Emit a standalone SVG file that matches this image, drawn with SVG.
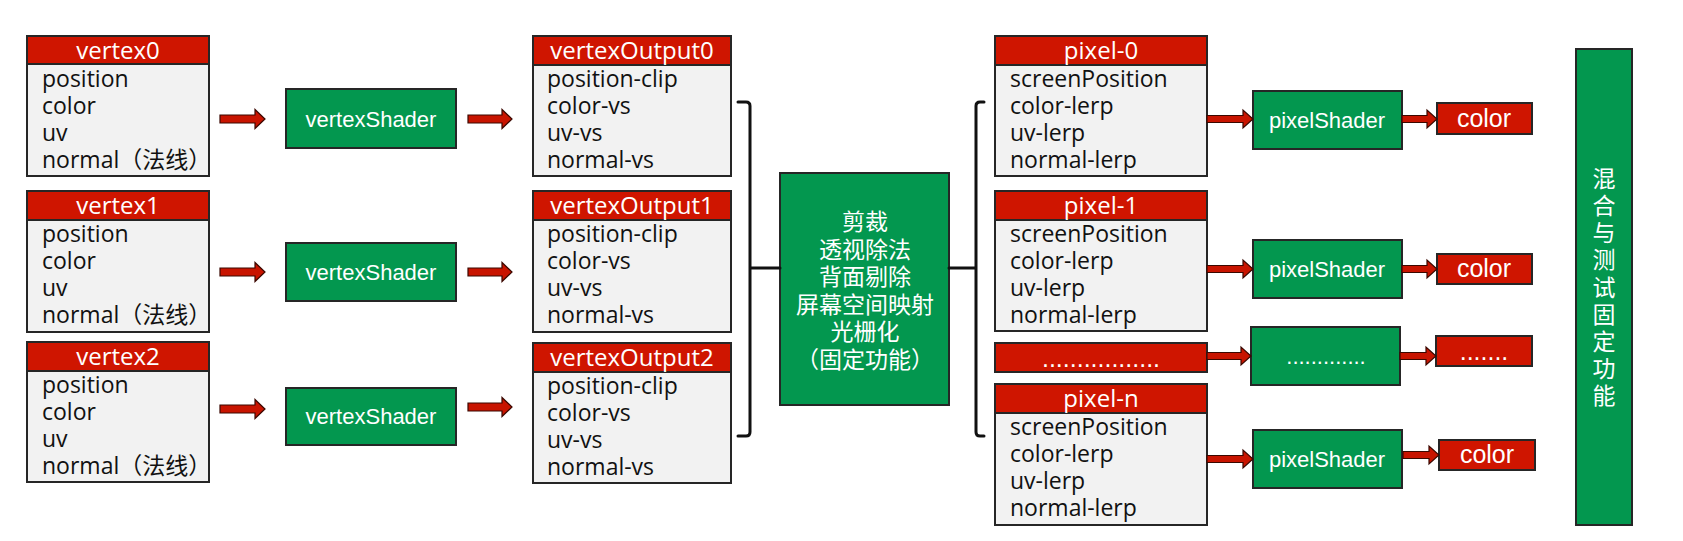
<svg xmlns="http://www.w3.org/2000/svg" width="1683" height="541" viewBox="0 0 1683 541">
<style>
.body{fill:#f2f2f2;stroke:#262626;stroke-width:2}
.hd{fill:#cf1500;stroke:#262626;stroke-width:2}
.gr{fill:#03974f;stroke:#262626;stroke-width:2}
.hdr{font-family:"Open Sans","Noto Sans CJK SC",sans-serif;font-size:24px;fill:#fff;text-anchor:middle}
.item{font-family:"Open Sans","Noto Sans CJK SC",sans-serif;font-size:23px;fill:#111}
.shd{font-family:"Liberation Sans",Arial,sans-serif;font-size:22px;fill:#fff;text-anchor:middle}
.col{font-family:"Liberation Sans",Arial,sans-serif;font-size:25px;fill:#fff;text-anchor:middle}
.cn{font-family:"Noto Sans CJK SC",sans-serif;font-size:23px;fill:#fff;text-anchor:middle}
.vt{font-family:"Noto Sans CJK SC",sans-serif;font-size:23px;fill:#fff;writing-mode:vertical-rl;letter-spacing:4.2px}
.arr{fill:#c81400;stroke:#3a0800;stroke-width:1.2;stroke-linejoin:miter}
.br{fill:none;stroke:#111;stroke-width:3;stroke-linecap:round;stroke-linejoin:round}
</style>
<rect width="1683" height="541" fill="#fff"/>

<g id="vertex0">
<rect class="body" x="27" y="36" width="182" height="140"/><rect class="hd" x="27" y="36" width="182" height="28"/>
<text class="hdr" x="118" y="59">vertex0</text>
<text class="item" x="42" y="87">position</text><text class="item" x="42" y="114">color</text><text class="item" x="42" y="141">uv</text><text class="item" x="42" y="168">normal（法线）</text>
</g>
<g id="vertex1">
<rect class="body" x="27" y="191" width="182" height="141"/><rect class="hd" x="27" y="191" width="182" height="29"/>
<text class="hdr" x="118" y="214">vertex1</text>
<text class="item" x="42" y="242">position</text><text class="item" x="42" y="269">color</text><text class="item" x="42" y="296">uv</text><text class="item" x="42" y="323">normal（法线）</text>
</g>
<g id="vertex2">
<rect class="body" x="27" y="342" width="182" height="140"/><rect class="hd" x="27" y="342" width="182" height="29"/>
<text class="hdr" x="118" y="365">vertex2</text>
<text class="item" x="42" y="393">position</text><text class="item" x="42" y="420">color</text><text class="item" x="42" y="447">uv</text><text class="item" x="42" y="474">normal（法线）</text>
</g>

<g id="vertexShader0"><rect class="gr" x="286" y="89" width="170" height="59"/><text class="shd" x="371" y="127">vertexShader</text></g>
<g id="vertexShader1"><rect class="gr" x="286" y="243" width="170" height="58"/><text class="shd" x="371" y="280">vertexShader</text></g>
<g id="vertexShader2"><rect class="gr" x="286" y="388" width="170" height="57"/><text class="shd" x="371" y="424">vertexShader</text></g>

<g id="vertexOutput0">
<rect class="body" x="533" y="36" width="198" height="140"/><rect class="hd" x="533" y="36" width="198" height="29"/>
<text class="hdr" x="632" y="59">vertexOutput0</text>
<text class="item" x="547" y="87">position-clip</text><text class="item" x="547" y="114">color-vs</text><text class="item" x="547" y="141">uv-vs</text><text class="item" x="547" y="168">normal-vs</text>
</g>
<g id="vertexOutput1">
<rect class="body" x="533" y="191" width="198" height="141"/><rect class="hd" x="533" y="191" width="198" height="29"/>
<text class="hdr" x="632" y="214">vertexOutput1</text>
<text class="item" x="547" y="242">position-clip</text><text class="item" x="547" y="269">color-vs</text><text class="item" x="547" y="296">uv-vs</text><text class="item" x="547" y="323">normal-vs</text>
</g>
<g id="vertexOutput2">
<rect class="body" x="533" y="343" width="198" height="140"/><rect class="hd" x="533" y="343" width="198" height="29"/>
<text class="hdr" x="632" y="366">vertexOutput2</text>
<text class="item" x="547" y="394">position-clip</text><text class="item" x="547" y="421">color-vs</text><text class="item" x="547" y="448">uv-vs</text><text class="item" x="547" y="475">normal-vs</text>
</g>

<g id="fixedStage">
<rect class="gr" x="780" y="173" width="169" height="232"/>
<text class="cn"><tspan x="865" y="230">剪裁</tspan><tspan x="865" y="257.6">透视除法</tspan><tspan x="865" y="285.2">背面剔除</tspan><tspan x="865" y="312.8">屏幕空间映射</tspan><tspan x="865" y="340.4">光栅化</tspan><tspan x="865" y="368">（固定功能）</tspan></text>
</g>

<g id="pixel0">
<rect class="body" x="995" y="36" width="212" height="140"/><rect class="hd" x="995" y="36" width="212" height="29"/>
<text class="hdr" x="1101" y="59">pixel-0</text>
<text class="item" x="1010" y="87">screenPosition</text><text class="item" x="1010" y="114">color-lerp</text><text class="item" x="1010" y="141">uv-lerp</text><text class="item" x="1010" y="168">normal-lerp</text>
</g>
<g id="pixel1">
<rect class="body" x="995" y="191" width="212" height="140"/><rect class="hd" x="995" y="191" width="212" height="29"/>
<text class="hdr" x="1101" y="214">pixel-1</text>
<text class="item" x="1010" y="242">screenPosition</text><text class="item" x="1010" y="269">color-lerp</text><text class="item" x="1010" y="296">uv-lerp</text><text class="item" x="1010" y="323">normal-lerp</text>
</g>
<g id="pixelDots">
<rect class="hd" x="995" y="343" width="212" height="29"/>
<text class="col" x="1101" y="367">.................</text>
</g>
<g id="pixelN">
<rect class="body" x="995" y="384" width="212" height="141"/><rect class="hd" x="995" y="384" width="212" height="29"/>
<text class="hdr" x="1101" y="407">pixel-n</text>
<text class="item" x="1010" y="435">screenPosition</text><text class="item" x="1010" y="462">color-lerp</text><text class="item" x="1010" y="489">uv-lerp</text><text class="item" x="1010" y="516">normal-lerp</text>
</g>

<g id="pixelShader0"><rect class="gr" x="1253" y="91" width="149" height="58"/><text class="shd" x="1327" y="128">pixelShader</text></g>
<g id="pixelShader1"><rect class="gr" x="1253" y="240" width="149" height="58"/><text class="shd" x="1327" y="277">pixelShader</text></g>
<g id="pixelShaderDots"><rect class="gr" x="1251" y="327" width="149" height="58"/><text class="shd" x="1326" y="364">.............</text></g>
<g id="pixelShaderN"><rect class="gr" x="1253" y="430" width="149" height="58"/><text class="shd" x="1327" y="467">pixelShader</text></g>

<g id="color0"><rect class="hd" x="1437" y="103" width="95" height="31"/><text class="col" x="1484" y="127">color</text></g>
<g id="color1"><rect class="hd" x="1437" y="254" width="95" height="30"/><text class="col" x="1484" y="277">color</text></g>
<g id="colorDots"><rect class="hd" x="1436" y="336" width="96" height="30"/><text class="col" x="1484" y="360">.......</text></g>
<g id="colorN"><rect class="hd" x="1439" y="440" width="96" height="30"/><text class="col" x="1487" y="463">color</text></g>

<g id="blendTest">
<rect class="gr" x="1576" y="49" width="56" height="476"/>
<text class="vt" x="1604" y="166.5">混合与测试固定功能</text>
</g>

<g id="connectors">
<polygon class="arr" points="220,115 255,115 255,109.5 265,119 255,128.5 255,123 220,123"/>
<polygon class="arr" points="468,115 502,115 502,109.5 512,119 502,128.5 502,123 468,123"/>
<polygon class="arr" points="220,268 255,268 255,262.5 265,272 255,281.5 255,276 220,276"/>
<polygon class="arr" points="468,268 502,268 502,262.5 512,272 502,281.5 502,276 468,276"/>
<polygon class="arr" points="220,405 255,405 255,399.5 265,409 255,418.5 255,413 220,413"/>
<polygon class="arr" points="468,403 502,403 502,397.5 512,407 502,416.5 502,411 468,411"/>
<path class="br" d="M738,102 H746 Q750,102 750,106 V432 Q750,436 746,436 H738 M750,268 H780"/>
<path class="br" d="M984,102 H980 Q976,102 976,106 V432 Q976,436 980,436 H984 M949,268 H976"/>
<polygon class="arr" points="1207,115.5 1243,115.5 1243,110 1253,119 1243,128 1243,122.5 1207,122.5"/>
<polygon class="arr" points="1207,265.5 1243,265.5 1243,260 1253,269 1243,278 1243,272.5 1207,272.5"/>
<polygon class="arr" points="1207,352.5 1241,352.5 1241,347 1251,356 1241,365 1241,359.5 1207,359.5"/>
<polygon class="arr" points="1207,455.5 1243,455.5 1243,450 1253,459 1243,468 1243,462.5 1207,462.5"/>
<polygon class="arr" points="1402,115.5 1427,115.5 1427,110 1437,119 1427,128 1427,122.5 1402,122.5"/>
<polygon class="arr" points="1402,265.5 1427,265.5 1427,260 1437,269 1427,278 1427,272.5 1402,272.5"/>
<polygon class="arr" points="1400,352.5 1426,352.5 1426,347 1436,356 1426,365 1426,359.5 1400,359.5"/>
<polygon class="arr" points="1403,451.5 1429,451.5 1429,446 1439,455 1429,464 1429,458.5 1403,458.5"/>
</g>
</svg>
